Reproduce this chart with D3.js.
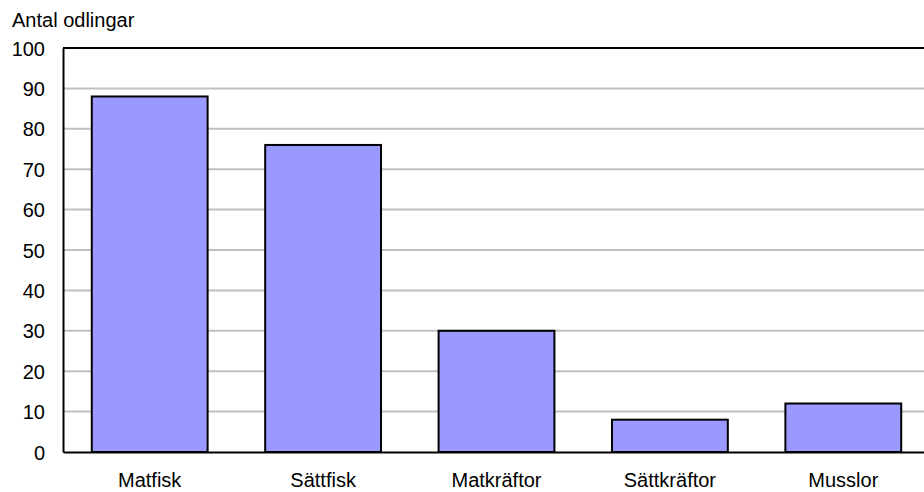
<!DOCTYPE html>
<html><head><meta charset="utf-8">
<script src="https://cdn.jsdelivr.net/npm/d3@7"></script>
<style>body{margin:0;background:#fff}svg{display:block}text{font-family:"Liberation Sans",Arial,sans-serif;fill:#000}</style>
</head><body>
<svg id="c" width="924" height="492"></svg>
<script>
const categories = ["Matfisk","Sättfisk","Matkräftor","Sättkräftor","Musslor"];
const values = [88, 76, 30, 8, 12];
const yTicks = [0,10,20,30,40,50,60,70,80,90,100];
const yTitle = "Antal odlingar";

const svg = d3.select("#c");
const m = {left:63, top:48, bottom:452, right:930};
const x = d3.scaleBand().domain(categories).range([m.left, m.right]).paddingInner(0.332).paddingOuter(0.166);
const y = d3.scaleLinear().domain([0,100]).range([m.bottom, m.top]);

// gridlines
svg.append("g").selectAll("line").data(yTicks.filter(d=>d>0 && d<100)).join("line")
  .attr("x1", m.left).attr("x2", m.right).attr("y1", d=>y(d)).attr("y2", d=>y(d))
  .attr("stroke", "#c0c0c0").attr("stroke-width", 2);

// bars
svg.append("g").selectAll("rect").data(values).join("rect")
  .attr("x", (d,i)=>x(categories[i])).attr("width", x.bandwidth())
  .attr("y", d=>y(d)).attr("height", d=>y(0)-y(d))
  .attr("fill", "#9999ff").attr("stroke", "#000").attr("stroke-width", 2);

// frame: top
svg.append("line").attr("x1", m.left).attr("x2", m.right).attr("y1", m.top).attr("y2", m.top).attr("stroke","#000").attr("stroke-width",2);
const ya = d3.axisLeft(y).tickValues(yTicks).tickSize(0).tickPadding(18);
const gy = svg.append("g").attr("transform", `translate(${m.left},0)`).call(ya);
gy.select(".domain").attr("stroke","#000").attr("stroke-width",2);
gy.selectAll("text").style("font-size","20px").attr("dy","0.35em");

const xa = d3.axisBottom(x).tickSize(0).tickPadding(21);
const gx = svg.append("g").attr("transform", `translate(0,${m.bottom})`).call(xa);
gx.select(".domain").attr("stroke","#000").attr("stroke-width",2);
gx.selectAll("text").style("font-size","20px");

svg.append("text").attr("x", 12).attr("y", 27).style("font-size","20px").text(yTitle);
</script>
</body></html>
